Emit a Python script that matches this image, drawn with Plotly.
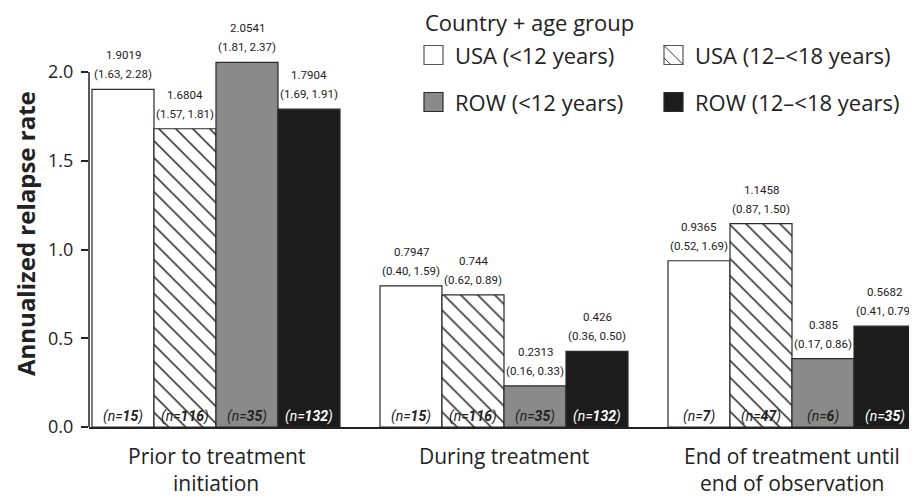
import plotly.graph_objects as go

# ---------------- data ----------------
periods = ["Prior to treatment<br>initiation", "During treatment",
           "End of treatment until<br>end of observation"]
series_names = ["USA (<12 years)", "USA (12\u2013<18 years)",
                "ROW (<12 years)", "ROW (12\u2013<18 years)"]

usa_lt12 = [1.9019, 0.7947, 0.9365]
usa_12_18 = [1.6804, 0.744, 1.1458]
row_lt12 = [2.0541, 0.2313, 0.385]
row_12_18 = [1.7904, 0.426, 0.5682]

usa_lt12_ci = ["(1.63, 2.28)", "(0.40, 1.59)", "(0.52, 1.69)"]
usa_12_18_ci = ["(1.57, 1.81)", "(0.62, 0.89)", "(0.87, 1.50)"]
row_lt12_ci = ["(1.81, 2.37)", "(0.16, 0.33)", "(0.17, 0.86)"]
row_12_18_ci = ["(1.69, 1.91)", "(0.36, 0.50)", "(0.41, 0.79)"]

usa_lt12_n = [15, 15, 7]
usa_12_18_n = [116, 116, 47]
row_lt12_n = [35, 35, 6]
row_12_18_n = [132, 132, 35]

value_labels = [["1.9019", "0.7947", "0.9365"],
                ["1.6804", "0.744", "1.1458"],
                ["2.0541", "0.2313", "0.385"],
                ["1.7904", "0.426", "0.5682"]]

y_ticks = [0.0, 0.5, 1.0, 1.5, 2.0]

# ---------------- styling ----------------
# the page body has an 8px default margin: compensate so that window
# pixel positions match the reference
OFF = 8
W, H = 917, 497
ML = 89 - OFF
MR = OFF
MT = 0
MB = 78
PW, PH = W - ML - MR, H - MT - MB
PX_PER_UNIT = 177.5
Y_MAX = PH / PX_PER_UNIT
SPACING = 288.0
X_MIN = -(216 - 89) / SPACING
X_MAX = X_MIN + PW / SPACING
BAR_W = 62.0 / SPACING

MAIN_FONT = "Open Sans, Noto Sans, sans-serif"
NARROW_FONT = "Roboto, Liberation Sans, sans-serif"

GRAY = "#8a8a8a"
BLACK = "#1c1c1c"
EDGE = "#2a2a2a"

values = [usa_lt12, usa_12_18, row_lt12, row_12_18]
cis = [usa_lt12_ci, usa_12_18_ci, row_lt12_ci, row_12_18_ci]
ns = [usa_lt12_n, usa_12_18_n, row_lt12_n, row_12_18_n]
fills = ["white", "white", GRAY, BLACK]
patterns = [None, "\\", None, None]
n_colors = ["#222222", "#222222", "#222222", "white"]

xs = list(range(len(periods)))


def px2x(p):
    """window pixel x -> paper x"""
    return (p - OFF - ML) / PW


def px2y(p):
    """window pixel y -> paper y"""
    return (H - MB - (p - OFF)) / PH


fig = go.Figure()
for i, name in enumerate(series_names):
    off = (i - 2) * BAR_W
    marker = dict(color=fills[i], line=dict(color=EDGE, width=1.2))
    if patterns[i]:
        marker["pattern"] = dict(shape=patterns[i], size=12, solidity=0.12,
                                 fgcolor="#1a1a1a", bgcolor="white", fillmode="replace")
    fig.add_trace(go.Bar(x=xs, y=values[i], name=name, width=BAR_W, offset=off,
                         marker=marker, showlegend=False, hoverinfo="skip"))
    for j, x in enumerate(xs):
        cx = x + off + BAR_W / 2
        fig.add_annotation(x=cx, y=values[i][j], xref="x", yref="y",
                           text=value_labels[i][j], showarrow=False,
                           yanchor="middle", yshift=34,
                           font=dict(family=NARROW_FONT, size=11.5, color="#222"))
        fig.add_annotation(x=cx, y=values[i][j], xref="x", yref="y",
                           text=cis[i][j], showarrow=False,
                           yanchor="middle", yshift=15,
                           font=dict(family=NARROW_FONT, size=11.5, color="#222"))
        fig.add_annotation(x=cx, y=0, xref="x", yref="y",
                           text="<i>(n=<b>%d</b>)</i>" % ns[i][j], showarrow=False,
                           yanchor="middle", yshift=11,
                           font=dict(family=NARROW_FONT, size=14, color=n_colors[i]))

# category labels under the axis (one annotation per text line)
for j, x in enumerate(xs):
    for k, line in enumerate(periods[j].split("<br>")):
        fig.add_annotation(x=x, y=px2y(456 + 27 * k), xref="x", yref="paper",
                           text=line, showarrow=False, yanchor="middle",
                           font=dict(family=MAIN_FONT, size=21, color="#222"))

# y-axis line only up to top tick
fig.add_shape(type="line", xref="paper", yref="y", x0=0, x1=0, y0=0, y1=y_ticks[-1],
              line=dict(color="#222", width=1.5))

# ---------- manual legend ----------
fig.add_annotation(xref="paper", yref="paper", x=px2x(423), y=px2y(22),
                   text="Country + age group", showarrow=False, xanchor="left",
                   yanchor="middle", font=dict(family=MAIN_FONT, size=22, color="#222"))

SQ = 19
leg_pos = [(424, 55), (664, 55), (424, 102), (664, 102)]
for i, name in enumerate(series_names):
    lx, ly = leg_pos[i]
    x0, x1 = px2x(lx), px2x(lx + SQ)
    y0, y1 = px2y(ly + SQ / 2), px2y(ly - SQ / 2)
    fig.add_shape(type="rect", xref="paper", yref="paper", x0=x0, x1=x1, y0=y0, y1=y1,
                  fillcolor=fills[i], line=dict(color="#555" if i < 2 else EDGE, width=1.2))
    if patterns[i]:
        fig.add_shape(type="line", xref="paper", yref="paper", x0=x0, x1=x1, y0=y1, y1=y0,
                      line=dict(color="#333", width=1))
        fig.add_shape(type="line", xref="paper", yref="paper",
                      x0=x0, x1=px2x(lx + SQ * 0.35), y0=px2y(ly + SQ * 0.15), y1=y0,
                      line=dict(color="#333", width=1))
    fig.add_annotation(xref="paper", yref="paper", x=px2x(lx + SQ + 10), y=px2y(ly),
                       text=name, showarrow=False, xanchor="left", yanchor="middle",
                       font=dict(family=MAIN_FONT, size=22, color="#222"))

# y-axis title
fig.add_annotation(xref="paper", yref="paper", x=px2x(25), y=px2y(234),
                   text="<b>Annualized relapse rate</b>", showarrow=False, textangle=-90,
                   xanchor="center", yanchor="middle", borderpad=0,
                   font=dict(family=MAIN_FONT, size=24, color="#222"))

fig.update_layout(
    width=W, height=H,
    margin=dict(l=ML, r=MR, t=MT, b=MB, autoexpand=False),
    plot_bgcolor="white", paper_bgcolor="white",
    barmode="overlay",
    font=dict(family=MAIN_FONT, color="#222"),
    xaxis=dict(range=[X_MIN, X_MAX], tickvals=xs, showticklabels=False,
               showline=True, linecolor="#222", linewidth=1.8, ticks="",
               showgrid=False, zeroline=False, automargin=False),
    yaxis=dict(range=[0, Y_MAX], tickvals=y_ticks, ticktext=["%.1f" % v for v in y_ticks],
               showline=False, ticks="outside", ticklen=7, tickwidth=1.5, tickcolor="#222",
               showgrid=False, zeroline=False, ticklabelstandoff=4, automargin=False,
               tickfont=dict(family=MAIN_FONT, size=18, color="#222")),
)

fig.write_html("out.html")
